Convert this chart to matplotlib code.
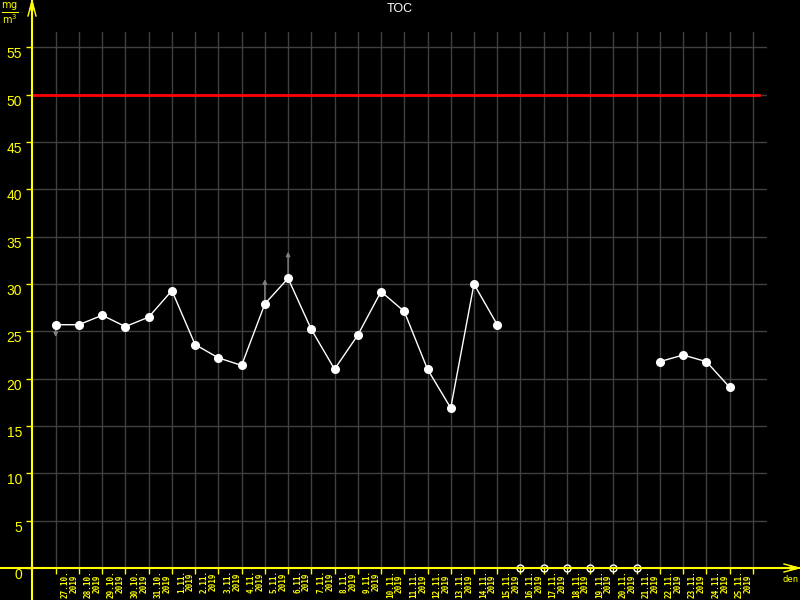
import numpy as np
import matplotlib.pyplot as plt
from matplotlib.lines import Line2D

# dny mereni (27.10. - 25.11.2019)
dny = ['27.10.', '28.10.', '29.10.', '30.10.', '31.10.',
       '1.11.', '2.11.', '3.11.', '4.11.', '5.11.', '6.11.', '7.11.',
       '8.11.', '9.11.', '10.11.', '11.11.', '12.11.', '13.11.', '14.11.',
       '15.11.', '16.11.', '17.11.', '18.11.', '19.11.', '20.11.', '21.11.',
       '22.11.', '23.11.', '24.11.', '25.11.']
rok = '2019'

# hodnoty TOC [mg/m3], None = bez mereni
toc = [25.7, 25.7, 26.7, 25.5, 26.5, 29.3, 23.6, 22.2, 21.4, 27.9, 30.6, 25.2,
       21.0, 24.6, 29.2, 27.1, 21.0, 16.9, 30.0, 25.7,
       None, None, None, None, None, None,
       21.8, 22.5, 21.8, 19.1]

# sipky u nekterych hodnot (index dne, kam sipka miri)
sipka_den = [0, 9, 10]
sipka_do = [24.4, 30.5, 33.4]

limit = 50
yticks = [0, 5, 10, 15, 20, 25, 30, 35, 40, 45, 50, 55]

ZLUTA = '#ffff00'
MRIZ = '#404040'
W, H = 800, 600

fig = plt.figure(figsize=(8, 6), dpi=100, facecolor='black')
# oblast grafu v pixelech: x 32..767, y 32..568
ax = fig.add_axes([32 / W, 1 - 568 / H, (767 - 32) / W, (568 - 32) / H])
ax.set_facecolor('black')
ax.set_xlim(-1.02, 30.61)
ax.set_ylim(0, 56.62)
for s in ax.spines.values():
    s.set_visible(False)

x = np.arange(len(dny))
y = np.array([np.nan if v is None else v for v in toc])

# mrizka
for k in range(len(dny) + 1):
    ax.axvline(k, color=MRIZ, lw=1, zorder=1)
for v in yticks[1:]:
    ax.axhline(v, color=MRIZ, lw=1, zorder=1)

# limit
ax.axhline(limit, xmin=0, xmax=(759 - 32) / (767 - 32), color='#ff0000', lw=2, zorder=2)

# sipky
for d, cil in zip(sipka_den, sipka_do):
    ax.annotate('', xy=(d, cil), xytext=(d, y[d]),
                arrowprops=dict(arrowstyle='-|>', color='#808080', lw=1,
                                mutation_scale=6, shrinkA=0, shrinkB=0),
                zorder=3)

ax.plot(x, y, color='white', lw=1, marker='o', ms=5.5, mfc='white', mec='white', zorder=4)

# dny bez mereni
chybi = [i for i, v in enumerate(toc) if v is None]
ax.plot(chybi, [0] * len(chybi), 'o', ms=5, mfc='none', mec='white', mew=1,
        clip_on=False, zorder=6)

# osy
ax.set_xticks(np.arange(len(dny) + 1))
ax.set_xticklabels([])
ax.tick_params(axis='x', length=4, width=1, color=ZLUTA, direction='out')
ax.set_yticks(yticks)
ax.set_yticklabels([str(v) for v in yticks], color=ZLUTA,
                   fontfamily='Liberation Sans', fontsize=10)
ax.tick_params(axis='y', length=4, width=1, color=ZLUTA, direction='out', pad=3)
for lbl in ax.get_yticklabels():
    lbl.set_va('top')

trans = ax.get_xaxis_transform()
for i, d in enumerate(dny):
    ax.text(i + 0.6, -2 / 536, d + '\n' + rok, transform=trans, rotation=90,
            ha='center', va='top', color=ZLUTA, fontsize=5.5, fontweight='bold',
            fontfamily='DejaVu Sans Mono', linespacing=1.0)


def px(xp, yp):
    return xp / W, 1 - yp / H


def cara(x0, y0, x1, y1, **kw):
    (a, b), (c, d) = px(x0, y0), px(x1, y1)
    fig.add_artist(Line2D([a, c], [b, d], transform=fig.transFigure, **kw))


cara(32, 0, 32, 600, color=ZLUTA, lw=1.5)
cara(0, 568, 800, 568, color=ZLUTA, lw=1.5)
# sipka osy y
cara(32, 1, 28, 16, color=ZLUTA, lw=1)
cara(32, 1, 36, 16, color=ZLUTA, lw=1)
cara(32, 1, 30, 10, color=ZLUTA, lw=1)
cara(32, 1, 34, 10, color=ZLUTA, lw=1)
# sipka osy x
cara(799, 568, 784, 564, color=ZLUTA, lw=1)
cara(799, 568, 784, 572, color=ZLUTA, lw=1)
cara(799, 568, 790, 566, color=ZLUTA, lw=1)
cara(799, 568, 790, 570, color=ZLUTA, lw=1)

fig.text(*px(791, 580), 'den', color=ZLUTA, fontsize=6.5,
         fontfamily='DejaVu Sans Mono', ha='center', va='center')
fig.text(*px(10, 13), r'$\frac{\mathrm{mg}}{\mathrm{m}^3}$', color=ZLUTA,
         fontsize=10, ha='center', va='center')
fig.text(*px(400, 9), 'TOC', color='white', fontsize=9,
         fontfamily='Liberation Sans', ha='center', va='center')

fig.savefig('out.png', dpi=100, facecolor='black')
